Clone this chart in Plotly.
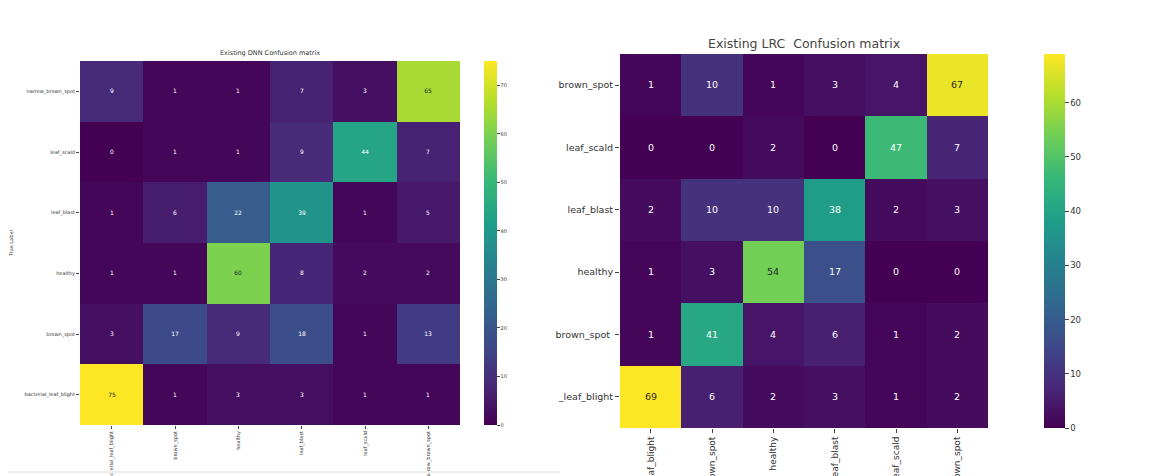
import plotly.graph_objects as go

W, H = 1167, 476
OFF = 8  # page body margin in the browser

# ---- data ----
dnn_cols = ["bacterial_leaf_blight", "brown_spot", "healthy", "leaf_blast", "leaf_scald", "narrow_brown_spot"]
dnn_rows = ["bacterial_leaf_blight", "brown_spot", "healthy", "leaf_blast", "leaf_scald", "narrow_brown_spot"]  # bottom -> top
dnn_values = [
    [75, 1, 3, 3, 1, 1],     # bacterial_leaf_blight
    [3, 17, 9, 18, 1, 13],   # brown_spot
    [1, 1, 60, 8, 2, 2],     # healthy
    [1, 6, 22, 39, 1, 5],    # leaf_blast
    [0, 1, 1, 9, 44, 7],     # leaf_scald
    [9, 1, 1, 7, 3, 65],     # narrow_brown_spot
]

lrc_cols = ["bacterial_leaf_blight", "brown_spot", "healthy", "leaf_blast", "leaf_scald", "narrow_brown_spot"]
lrc_rows = ["_leaf_blight", "brown_spot ", "healthy", "leaf_blast", "leaf_scald", "brown_spot"]  # bottom -> top
lrc_values = [
    [69, 6, 2, 3, 1, 2],
    [1, 41, 4, 6, 1, 2],
    [1, 3, 54, 17, 0, 0],
    [2, 10, 10, 38, 2, 3],
    [0, 0, 2, 0, 47, 7],
    [1, 10, 1, 3, 4, 67],
]

dnn_ticks = [0, 10, 20, 30, 40, 50, 60, 70]
lrc_ticks = [0, 10, 20, 30, 40, 50, 60]


def px_x(p):
    return (p - OFF) / W


def px_y(p):
    return 1 - (p - OFF) / H


FONT = "DejaVu Sans"
LIGHT_TXT = "#ffffff"
DARK_TXT = "#262626"
CLEAR = [[0, "rgba(0,0,0,0)"], [1, "rgba(0,0,0,0)"]]


def split_text(values):
    vmax = max(max(r) for r in values)
    light, dark = [], []
    for row in values:
        light.append([str(v) if v / vmax <= 0.72 else "" for v in row])
        dark.append([str(v) if v / vmax > 0.72 else "" for v in row])
    return light, dark


fig = go.Figure()

L_x0, L_x1, L_y0, L_y1 = 80, 460, 61, 425
R_x0, R_x1, R_y0, R_y1 = 620, 988, 54, 428


def add_matrix(values, cols, rows, xa, ya, fsize, cb):
    light, dark = split_text(values)
    fig.add_trace(go.Heatmap(
        z=values, x=cols, y=rows, text=light,
        colorscale="Viridis", zmin=0, zmax=max(max(r) for r in values),
        texttemplate="%{text}", textfont=dict(size=fsize, family=FONT, color=LIGHT_TXT),
        xaxis=xa, yaxis=ya, colorbar=cb,
    ))
    fig.add_trace(go.Heatmap(
        z=values, x=cols, y=rows, text=dark,
        colorscale=CLEAR, showscale=False, hoverinfo="skip",
        texttemplate="%{text}", textfont=dict(size=fsize, family=FONT, color=DARK_TXT),
        xaxis=xa, yaxis=ya,
    ))


add_matrix(dnn_values, dnn_cols, dnn_rows, "x", "y", 6, dict(
    x=px_x(484), xanchor="left", xref="paper", xpad=0, ypad=0,
    y=px_y((L_y0 + L_y1) / 2), yanchor="middle",
    len=(L_y1 - L_y0) / H, lenmode="fraction",
    thickness=13, outlinewidth=0,
    tickvals=dnn_ticks, ticks="outside", ticklen=3, tickcolor="#444",
    tickfont=dict(size=5, family=FONT, color="#333"),
))

add_matrix(lrc_values, lrc_cols, lrc_rows, "x2", "y2", 9.5, dict(
    x=px_x(1044), xanchor="left", xref="paper", xpad=0, ypad=0,
    y=px_y((R_y0 + R_y1) / 2), yanchor="middle",
    len=(R_y1 - R_y0) / H, lenmode="fraction",
    thickness=21, outlinewidth=0,
    tickvals=lrc_ticks, ticks="outside", ticklen=4, tickcolor="#444",
    tickfont=dict(size=8.5, family=FONT, color="#333"),
))

fig.update_layout(
    width=W, height=H,
    margin=dict(l=0, r=0, t=0, b=0),
    paper_bgcolor="white", plot_bgcolor="white",
    font=dict(family=FONT, color="#333"),
    showlegend=False,
    xaxis=dict(domain=[px_x(L_x0), px_x(L_x1)], anchor="y", tickangle=-90,
               tickfont=dict(size=5, family=FONT), ticks="outside", ticklen=3,
               showgrid=False, zeroline=False, showline=False, automargin=False),
    yaxis=dict(domain=[px_y(L_y1), px_y(L_y0)], anchor="x",
               tickfont=dict(size=5, family=FONT), ticks="outside", ticklen=3,
               title=dict(text="True Label", font=dict(size=5, family=FONT), standoff=33),
               showgrid=False, zeroline=False, showline=False, automargin=False),
    xaxis2=dict(domain=[px_x(R_x0), px_x(R_x1)], anchor="y2", tickangle=-90,
                tickfont=dict(size=9, family=FONT), ticks="outside", ticklen=4,
                showgrid=False, zeroline=False, showline=False, automargin=False),
    yaxis2=dict(domain=[px_y(R_y1), px_y(R_y0)], anchor="x2",
                tickfont=dict(size=9.5, family=FONT), ticks="outside", ticklen=4,
                showgrid=False, zeroline=False, showline=False, automargin=False),
    annotations=[
        dict(text="Existing DNN Confusion matrix", x=(px_x(L_x0) + px_x(L_x1)) / 2, y=px_y(L_y0 - 2),
             xref="paper", yref="paper", xanchor="center", yanchor="bottom", showarrow=False,
             font=dict(size=6.5, family=FONT, color="#333")),
        dict(text="Existing LRC  Confusion matrix", x=(px_x(R_x0) + px_x(R_x1)) / 2, y=px_y(R_y0 - 1),
             xref="paper", yref="paper", xanchor="center", yanchor="bottom", showarrow=False,
             font=dict(size=12.5, family=FONT, color="#444")),
    ],
    shapes=[
        dict(type="line", xref="paper", yref="paper", x0=0, x1=px_x(550), y0=px_y(5), y1=px_y(5),
             line=dict(color="#e6e6e6", width=1)),
        dict(type="line", xref="paper", yref="paper", x0=0, x1=px_x(560), y0=px_y(472), y1=px_y(472),
             line=dict(color="#eeeeee", width=2)),
    ],
)

fig.write_html("out.html")
